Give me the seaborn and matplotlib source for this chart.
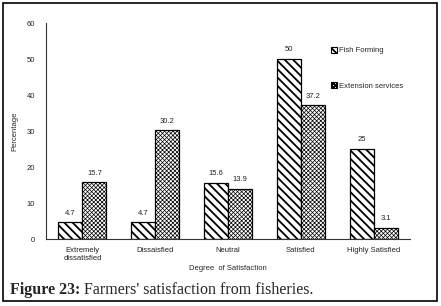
import pandas as pd
import matplotlib.pyplot as plt
import seaborn as sns
from matplotlib.patches import Rectangle

categories = ['Extremely\ndissatisfied', 'Dissaisfied', 'Neutral', 'Satisfied', 'Highly Satisfied']
fish_farming = [4.7, 4.7, 15.6, 50, 25]
extension = [15.7, 30.2, 13.9, 37.2, 3.1]
series = ['Fish Forming', 'Extension services']

df = pd.DataFrame({
    'category': categories * 2,
    'value': fish_farming + extension,
    'series': [series[0]] * 5 + [series[1]] * 5,
})

sns.set_style('white')
plt.rcParams['font.family'] = ['Liberation Sans', 'DejaVu Sans']
plt.rcParams['hatch.linewidth'] = 1.3

fig = plt.figure(figsize=(4.41, 3.06), dpi=100)
ax = fig.add_axes([46 / 441, 1 - 239 / 306, 364 / 441, 216 / 306])

sns.barplot(data=df, x='category', y='value', hue='series', ax=ax,
            palette=['white', 'white'], edgecolor='black', linewidth=0.9,
            width=0.66, legend=False)

hatches = ['\\\\\\\\', 'xxxxxxxx']
hatch_lw = [1.3, 0.5]
for i, cont in enumerate(ax.containers):
    for bar in cont:
        bar.set_hatch(hatches[i])
        if hasattr(bar, 'set_hatch_linewidth'):
            bar.set_hatch_linewidth(hatch_lw[i])
    ax.bar_label(cont, labels=[f'{v:g}' for v in cont.datavalues],
                 padding=4, fontsize=5.5, color='#222222')

ax.set_ylim(0, 60)
ax.set_yticks(range(0, 61, 10))
ax.tick_params(axis='both', labelsize=5.5, length=0, pad=8, labelcolor='#222222')
ax.tick_params(axis='x', pad=6)
ax.set_xlabel('Degree  of Satisfaction', fontsize=5.5, labelpad=2)
ax.set_ylabel('Percentage', fontsize=5.5, labelpad=6)
for s in ['top', 'right']:
    ax.spines[s].set_visible(False)
for s in ['left', 'bottom']:
    ax.spines[s].set_color('#333333')
    ax.spines[s].set_linewidth(0.8)

# legend drawn on figure at the right
handles = []
for i in range(2):
    r = Rectangle((0, 0), 1, 1, facecolor='white', edgecolor='black', hatch=hatches[i], linewidth=0.8)
    if hasattr(r, 'set_hatch_linewidth'):
        r.set_hatch_linewidth(hatch_lw[i])
    handles.append(r)
fig.legend(handles, series, loc='upper left', bbox_to_anchor=(324 / 441, 1 - 40 / 306),
           frameon=False, fontsize=5.5, handlelength=0.8, handleheight=0.8,
           handletextpad=0.2, labelspacing=3.6)

# border around figure
fig.patches.append(Rectangle((3 / 441, 5 / 306), 434 / 441, 298 / 306, transform=fig.transFigure,
                             fill=False, edgecolor='black', linewidth=1.2))

fig.text(10 / 441, 1 - 290 / 306, 'Figure 23:', fontsize=11.5, fontweight='bold',
         family='Liberation Serif', va='center', ha='left')
fig.text(84 / 441, 1 - 290 / 306, "Farmers' satisfaction from fisheries.", fontsize=11.5,
         family='Liberation Serif', va='center', ha='left')

fig.savefig('out.png', dpi=100)
